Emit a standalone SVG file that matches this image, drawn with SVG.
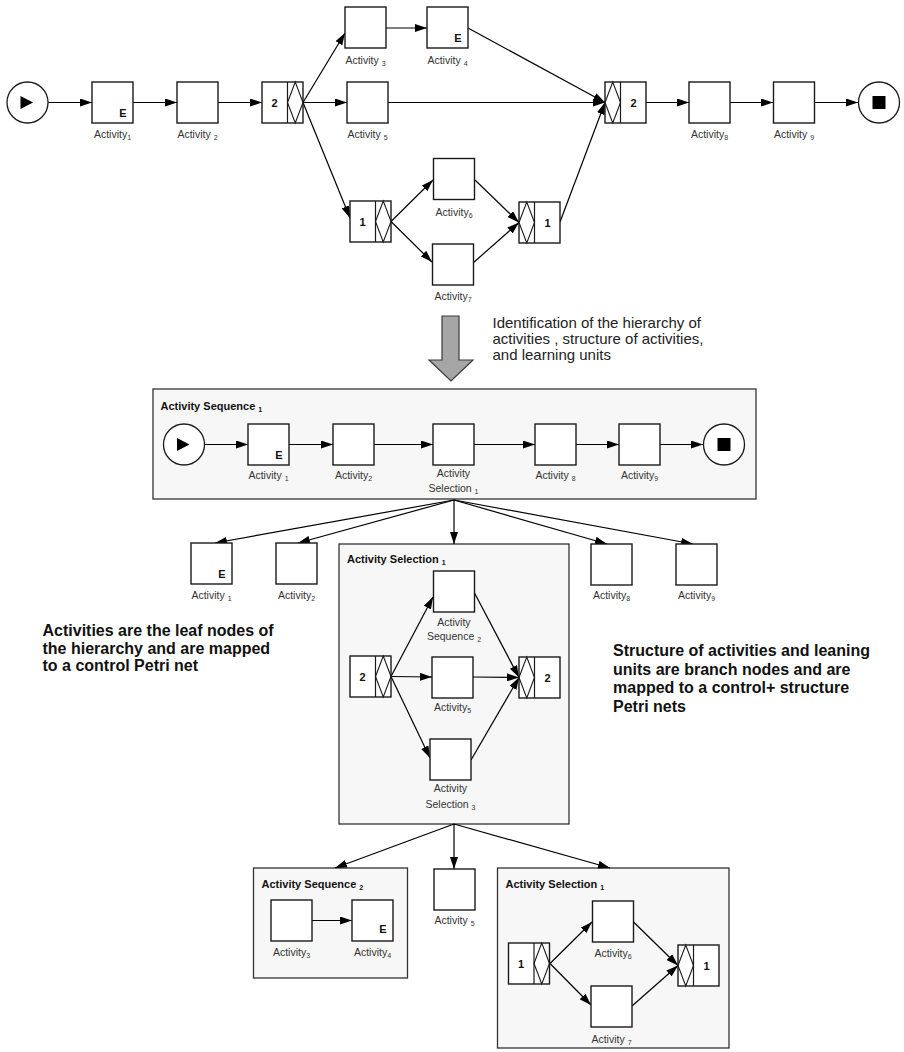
<svg xmlns="http://www.w3.org/2000/svg" xmlns:xlink="http://www.w3.org/1999/xlink" width="904" height="1052" viewBox="0 0 904 1052">
  <style>
    .box { fill: #ffffff; stroke: #1a1a1a; stroke-width: 1.4; }
    .cont { fill: #f7f7f7; stroke: #333333; stroke-width: 1.3; }
    .ring { fill: #ffffff; stroke: #1a1a1a; stroke-width: 1.3; }
    .mark { fill: #000000; stroke: none; }
    .edge { fill: none; stroke: #000000; stroke-width: 1.2; marker-end: url(#ah); }
    .lbl { font-family: "Liberation Sans", Arial, sans-serif; font-size: 10.5px; fill: #333333; text-anchor: middle; }
    .sub { font-size: 7px; }
    .e { font-family: "Liberation Sans", Arial, sans-serif; font-size: 11px; font-weight: bold; fill: #111111; text-anchor: middle; }
    .num { font-family: "Liberation Sans", Arial, sans-serif; font-size: 11px; font-weight: bold; fill: #111111; text-anchor: middle; }
    .title { font-family: "Liberation Sans", Arial, sans-serif; font-size: 11px; font-weight: bold; fill: #111111; }
    .note { font-family: "Liberation Sans", Arial, sans-serif; font-size: 16px; font-weight: bold; fill: #111111; }
    .desc { font-family: "Liberation Sans", Arial, sans-serif; font-size: 15px; fill: #222222; }
  </style>
  <defs>
    <marker id="ah" markerUnits="userSpaceOnUse" markerWidth="12" markerHeight="8" refX="12" refY="4" orient="auto">
      <path d="M0,0 L12,4 L0,8 z" fill="#000000"/>
    </marker>
    <!-- split gateway: counter cell on the left, diamond on the right -->
    <g id="gwSplit">
      <rect class="box" x="0" y="0" width="41" height="41"/>
      <line x1="25.5" y1="0" x2="25.5" y2="41" stroke="#1a1a1a" stroke-width="1.2"/>
      <polygon points="25.5,20.5 33.25,0 41,20.5 33.25,41" fill="none" stroke="#1a1a1a" stroke-width="1.1"/>
    </g>
    <!-- join gateway: diamond on the left, counter cell on the right -->
    <g id="gwJoin">
      <rect class="box" x="0" y="0" width="41" height="41"/>
      <line x1="15.5" y1="0" x2="15.5" y2="41" stroke="#1a1a1a" stroke-width="1.2"/>
      <polygon points="0,20.5 7.75,0 15.5,20.5 7.75,41" fill="none" stroke="#1a1a1a" stroke-width="1.1"/>
    </g>
    <g id="startEv">
      <circle class="ring" cx="0" cy="0" r="20.5"/>
      <polygon class="mark" points="-7,-6.5 5.5,0 -7,6.5"/>
    </g>
    <g id="endEv">
      <circle class="ring" cx="0" cy="0" r="20.5"/>
      <rect class="mark" x="-6.5" y="-6.5" width="13" height="13"/>
    </g>
  </defs>

  <rect x="0" y="0" width="904" height="1052" fill="#ffffff"/>

  <!-- ===== containers (drawn first so nodes sit on top) ===== -->
  <g id="seq1-container">
    <rect class="cont" x="153" y="389" width="603" height="110"/>
    <text class="title" x="160.5" y="410">Activity Sequence <tspan class="sub" dy="2">1</tspan></text>
  </g>
  <g id="sel1-container">
    <rect class="cont" x="339" y="544" width="230" height="280"/>
    <text class="title" x="347" y="563">Activity Selection <tspan class="sub" dy="2">1</tspan></text>
  </g>
  <g id="seq2-container">
    <rect class="cont" x="253.5" y="868" width="154" height="110"/>
    <text class="title" x="261.5" y="888">Activity Sequence <tspan class="sub" dy="2">2</tspan></text>
  </g>
  <g id="sel1b-container">
    <rect class="cont" x="497.5" y="868" width="231.5" height="180"/>
    <text class="title" x="505.5" y="888">Activity Selection <tspan class="sub" dy="2">1</tspan></text>
  </g>

  <!-- ===== connectors ===== -->
  <g id="connectors">
    <!-- top process -->
    <line class="edge" x1="48" y1="102.5" x2="92" y2="102.5"/>
    <line class="edge" x1="133" y1="102.5" x2="177" y2="102.5"/>
    <line class="edge" x1="218" y1="102.5" x2="262" y2="102.5"/>
    <line class="edge" x1="303" y1="102.5" x2="345" y2="33"/>
    <line class="edge" x1="303" y1="102.5" x2="347" y2="102.5"/>
    <line class="edge" x1="303" y1="102.5" x2="350" y2="218"/>
    <line class="edge" x1="386" y1="28" x2="427" y2="28"/>
    <line class="edge" x1="468" y1="28" x2="605" y2="102.5"/>
    <line class="edge" x1="388" y1="102.5" x2="605" y2="102.5"/>
    <line class="edge" x1="560" y1="222" x2="605" y2="102.5"/>
    <line class="edge" x1="391" y1="221.5" x2="433" y2="180"/>
    <line class="edge" x1="391" y1="221.5" x2="432" y2="262"/>
    <line class="edge" x1="475" y1="180" x2="519" y2="222.5"/>
    <line class="edge" x1="473" y1="263" x2="519" y2="222.5"/>
    <line class="edge" x1="646" y1="102.5" x2="689" y2="102.5"/>
    <line class="edge" x1="730" y1="102.5" x2="773" y2="102.5"/>
    <line class="edge" x1="815" y1="102.5" x2="858" y2="102.5"/>

    <!-- activity sequence 1 -->
    <line class="edge" x1="205" y1="444.5" x2="248" y2="444.5"/>
    <line class="edge" x1="289" y1="444.5" x2="333" y2="444.5"/>
    <line class="edge" x1="374" y1="444.5" x2="433" y2="444.5"/>
    <line class="edge" x1="474" y1="444.5" x2="535" y2="444.5"/>
    <line class="edge" x1="576" y1="444.5" x2="619" y2="444.5"/>
    <line class="edge" x1="660" y1="444.5" x2="703" y2="444.5"/>

    <!-- hierarchy: sequence 1 to its children -->
    <line class="edge" x1="454" y1="500" x2="215" y2="543"/>
    <line class="edge" x1="454" y1="500" x2="298" y2="543"/>
    <line class="edge" x1="454" y1="500" x2="454" y2="544"/>
    <line class="edge" x1="454" y1="500" x2="607" y2="544"/>
    <line class="edge" x1="454" y1="500" x2="693" y2="544"/>

    <!-- activity selection 1 (inner net) -->
    <line class="edge" x1="391" y1="676.5" x2="433" y2="597"/>
    <line class="edge" x1="391" y1="676.5" x2="432" y2="677"/>
    <line class="edge" x1="391" y1="676.5" x2="430" y2="758"/>
    <line class="edge" x1="474" y1="592" x2="519" y2="677.5"/>
    <line class="edge" x1="473" y1="677" x2="519" y2="677.5"/>
    <line class="edge" x1="471" y1="760" x2="519" y2="677.5"/>

    <!-- hierarchy: selection 1 to its children -->
    <line class="edge" x1="454" y1="824" x2="335" y2="868"/>
    <line class="edge" x1="454" y1="824" x2="454" y2="869"/>
    <line class="edge" x1="454" y1="824" x2="610" y2="868"/>

    <!-- activity sequence 2 -->
    <line class="edge" x1="312" y1="920.5" x2="352" y2="920.5"/>

    <!-- activity selection 1 (lower net) -->
    <line class="edge" x1="550" y1="963.5" x2="592" y2="922"/>
    <line class="edge" x1="550" y1="963.5" x2="591" y2="1005"/>
    <line class="edge" x1="633" y1="921.5" x2="678" y2="965.5"/>
    <line class="edge" x1="632" y1="1006" x2="678" y2="965.5"/>
  </g>

  <!-- ===== top process nodes ===== -->
  <g id="t-start"><use xlink:href="#startEv" href="#startEv" x="27.5" y="102.5"/></g>
  <g id="t-act1">
    <rect class="box" x="92" y="82" width="41" height="41"/>
    <text class="e" x="123" y="117">E</text>
    <text class="lbl" x="112.5" y="138">Activity<tspan class="sub" dy="2">1</tspan></text>
  </g>
  <g id="t-act2">
    <rect class="box" x="177" y="82" width="41" height="41"/>
    <text class="lbl" x="197.5" y="138">Activity <tspan class="sub" dy="2">2</tspan></text>
  </g>
  <g id="t-split2">
    <use xlink:href="#gwSplit" href="#gwSplit" x="262" y="82"/>
    <text class="num" x="274.5" y="106.5">2</text>
  </g>
  <g id="t-act3">
    <rect class="box" x="345" y="7" width="41" height="41"/>
    <text class="lbl" x="365.5" y="64">Activity <tspan class="sub" dy="2">3</tspan></text>
  </g>
  <g id="t-act4">
    <rect class="box" x="427" y="7" width="41" height="41"/>
    <text class="e" x="458" y="42">E</text>
    <text class="lbl" x="447.5" y="64">Activity <tspan class="sub" dy="2">4</tspan></text>
  </g>
  <g id="t-act5">
    <rect class="box" x="347" y="82" width="41" height="41"/>
    <text class="lbl" x="367.5" y="138">Activity <tspan class="sub" dy="2">5</tspan></text>
  </g>
  <g id="t-split1">
    <use xlink:href="#gwSplit" href="#gwSplit" x="350" y="201"/>
    <text class="num" x="362.5" y="225.5">1</text>
  </g>
  <g id="t-act6">
    <rect class="box" x="433.5" y="158.5" width="41" height="41"/>
    <text class="lbl" x="454" y="215.5">Activity<tspan class="sub" dy="2">6</tspan></text>
  </g>
  <g id="t-act7">
    <rect class="box" x="432.5" y="244" width="41" height="41"/>
    <text class="lbl" x="453" y="299.5">Activity<tspan class="sub" dy="2">7</tspan></text>
  </g>
  <g id="t-join1">
    <use xlink:href="#gwJoin" href="#gwJoin" x="519" y="202"/>
    <text class="num" x="547.5" y="226.5">1</text>
  </g>
  <g id="t-join2">
    <use xlink:href="#gwJoin" href="#gwJoin" x="605" y="82"/>
    <text class="num" x="633.5" y="106.5">2</text>
  </g>
  <g id="t-act8">
    <rect class="box" x="689" y="82" width="41" height="41"/>
    <text class="lbl" x="709.5" y="138">Activity<tspan class="sub" dy="2">8</tspan></text>
  </g>
  <g id="t-act9">
    <rect class="box" x="773.5" y="82" width="41" height="41"/>
    <text class="lbl" x="794" y="138">Activity <tspan class="sub" dy="2">9</tspan></text>
  </g>
  <g id="t-end"><use xlink:href="#endEv" href="#endEv" x="879" y="102.5"/></g>

  <!-- ===== transformation arrow and caption ===== -->
  <g id="transform-arrow">
    <polygon points="442,316 459,316 459,360 473,360 451,381 429,360 442,360" fill="#a6a6a6" stroke="#3a3a3a" stroke-width="1.2"/>
  </g>
  <g id="transform-caption">
    <text class="desc" x="492.5" y="328">Identification of the hierarchy of</text>
    <text class="desc" x="492.5" y="344">activities , structure of activities,</text>
    <text class="desc" x="492.5" y="360">and learning units</text>
  </g>

  <!-- ===== activity sequence 1 nodes ===== -->
  <g id="s1-start"><use xlink:href="#startEv" href="#startEv" x="184" y="444.5"/></g>
  <g id="s1-act1">
    <rect class="box" x="248" y="424" width="41" height="41"/>
    <text class="e" x="279" y="459">E</text>
    <text class="lbl" x="268.5" y="479">Activity <tspan class="sub" dy="2">1</tspan></text>
  </g>
  <g id="s1-act2">
    <rect class="box" x="333" y="424" width="41" height="41"/>
    <text class="lbl" x="353.5" y="479">Activity<tspan class="sub" dy="2">2</tspan></text>
  </g>
  <g id="s1-sel1">
    <rect class="box" x="433" y="424" width="41" height="41"/>
    <text class="lbl" x="453.5" y="477">Activity</text>
    <text class="lbl" x="453.5" y="492">Selection <tspan class="sub" dy="2">1</tspan></text>
  </g>
  <g id="s1-act8">
    <rect class="box" x="535" y="424" width="41" height="41"/>
    <text class="lbl" x="555.5" y="479">Activity <tspan class="sub" dy="2">8</tspan></text>
  </g>
  <g id="s1-act9">
    <rect class="box" x="619" y="424" width="41" height="41"/>
    <text class="lbl" x="639.5" y="479">Activity<tspan class="sub" dy="2">9</tspan></text>
  </g>
  <g id="s1-end"><use xlink:href="#endEv" href="#endEv" x="724" y="444.5"/></g>

  <!-- ===== leaf activities of sequence 1 ===== -->
  <g id="leaf-act1">
    <rect class="box" x="191" y="543" width="41" height="41"/>
    <text class="e" x="222" y="578">E</text>
    <text class="lbl" x="211.5" y="598.5">Activity <tspan class="sub" dy="2">1</tspan></text>
  </g>
  <g id="leaf-act2">
    <rect class="box" x="276" y="543" width="41" height="41"/>
    <text class="lbl" x="296.5" y="598.5">Activity<tspan class="sub" dy="2">2</tspan></text>
  </g>
  <g id="leaf-act8">
    <rect class="box" x="591" y="544" width="41" height="41"/>
    <text class="lbl" x="611.5" y="598.5">Activity<tspan class="sub" dy="2">8</tspan></text>
  </g>
  <g id="leaf-act9">
    <rect class="box" x="676" y="544" width="41" height="41"/>
    <text class="lbl" x="696.5" y="598.5">Activity<tspan class="sub" dy="2">9</tspan></text>
  </g>

  <!-- ===== activity selection 1 inner net ===== -->
  <g id="sel1-split">
    <use xlink:href="#gwSplit" href="#gwSplit" x="350" y="656"/>
    <text class="num" x="362.5" y="680.5">2</text>
  </g>
  <g id="sel1-seq2">
    <rect class="box" x="433.5" y="571" width="41" height="41"/>
    <text class="lbl" x="454" y="625.5">Activity</text>
    <text class="lbl" x="454" y="640">Sequence <tspan class="sub" dy="2">2</tspan></text>
  </g>
  <g id="sel1-act5">
    <rect class="box" x="432" y="657" width="41" height="41"/>
    <text class="lbl" x="452.5" y="711">Activity<tspan class="sub" dy="2">5</tspan></text>
  </g>
  <g id="sel1-sel3">
    <rect class="box" x="430" y="739" width="41" height="41"/>
    <text class="lbl" x="450.5" y="792">Activity</text>
    <text class="lbl" x="450.5" y="808">Selection <tspan class="sub" dy="2">3</tspan></text>
  </g>
  <g id="sel1-join">
    <use xlink:href="#gwJoin" href="#gwJoin" x="519" y="657"/>
    <text class="num" x="547.5" y="681.5">2</text>
  </g>

  <!-- ===== side notes ===== -->
  <g id="note-leaf">
    <text class="note" x="42.5" y="636">Activities are the leaf nodes of</text>
    <text class="note" x="42.5" y="653.5">the hierarchy and are mapped</text>
    <text class="note" x="42.5" y="671">to a control Petri net</text>
  </g>
  <g id="note-branch">
    <text class="note" x="613" y="656">Structure of activities and leaning</text>
    <text class="note" x="613" y="674.5">units are branch nodes and are</text>
    <text class="note" x="613" y="693">mapped to a control+ structure</text>
    <text class="note" x="613" y="711.5">Petri nets</text>
  </g>

  <!-- ===== activity sequence 2 ===== -->
  <g id="seq2-act3">
    <rect class="box" x="271" y="900" width="41" height="41"/>
    <text class="lbl" x="291.5" y="956">Activity<tspan class="sub" dy="2">3</tspan></text>
  </g>
  <g id="seq2-act4">
    <rect class="box" x="352" y="900" width="41" height="41"/>
    <text class="e" x="383" y="933">E</text>
    <text class="lbl" x="372.5" y="956">Activity<tspan class="sub" dy="2">4</tspan></text>
  </g>

  <!-- ===== leaf activity 5 ===== -->
  <g id="leaf-act5">
    <rect class="box" x="434" y="869" width="41" height="41"/>
    <text class="lbl" x="454.5" y="924">Activity <tspan class="sub" dy="2">5</tspan></text>
  </g>

  <!-- ===== activity selection 1 (lower) ===== -->
  <g id="sel1b-split">
    <use xlink:href="#gwSplit" href="#gwSplit" x="508.5" y="943"/>
    <text class="num" x="521" y="967.5">1</text>
  </g>
  <g id="sel1b-act6">
    <rect class="box" x="592.5" y="901" width="41" height="41"/>
    <text class="lbl" x="613" y="957">Activity<tspan class="sub" dy="2">6</tspan></text>
  </g>
  <g id="sel1b-act7">
    <rect class="box" x="591" y="986" width="41" height="41"/>
    <text class="lbl" x="611.5" y="1043">Activity <tspan class="sub" dy="2">7</tspan></text>
  </g>
  <g id="sel1b-join">
    <use xlink:href="#gwJoin" href="#gwJoin" x="678" y="945"/>
    <text class="num" x="706.5" y="969.5">1</text>
  </g>
</svg>
